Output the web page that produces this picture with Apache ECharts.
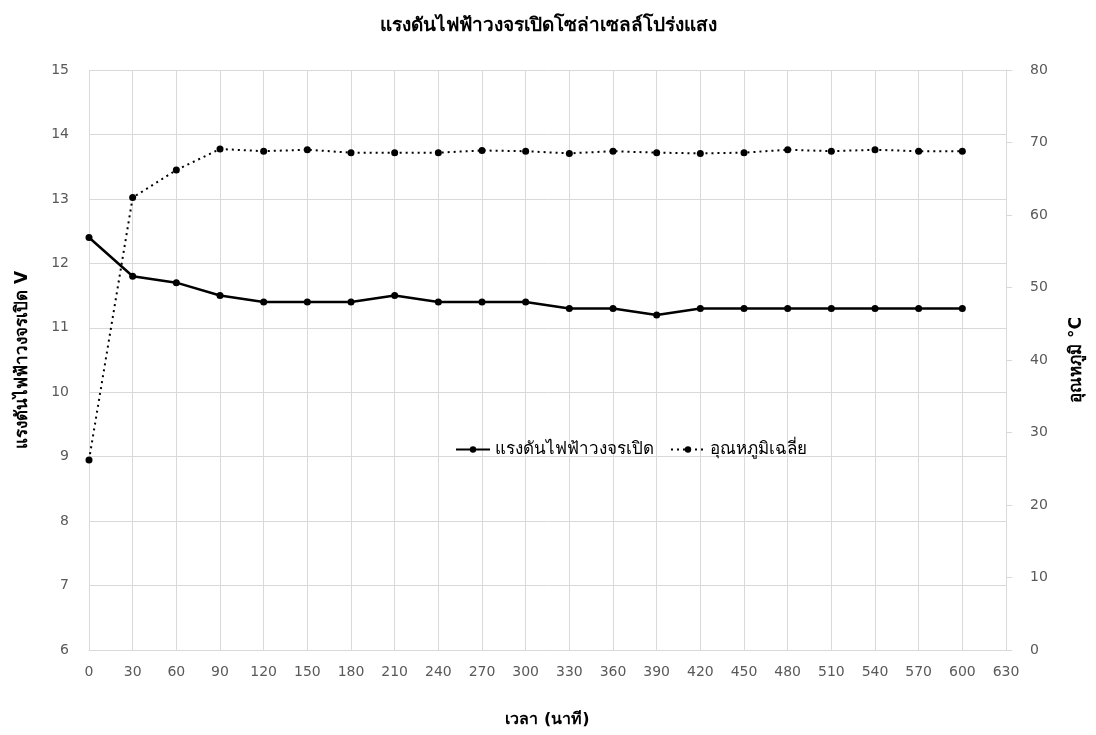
<!DOCTYPE html>
<html>
<head>
<meta charset="utf-8">
<script src="https://cdn.jsdelivr.net/npm/echarts@6/dist/echarts.min.js"></script>
<style>
  html, body { margin: 0; padding: 0; background: #fff; }
  #main { width: 1096px; height: 735px; }
</style>
</head>
<body>
<div id="main"></div>
<script>
// เวลา (นาที)
var minutes = [0, 30, 60, 90, 120, 150, 180, 210, 240, 270, 300, 330, 360, 390, 420, 450, 480, 510, 540, 570, 600];
// แรงดันไฟฟ้าวงจรเปิด (V)
var voltage = [12.4, 11.8, 11.7, 11.5, 11.4, 11.4, 11.4, 11.5, 11.4, 11.4, 11.4, 11.3, 11.3, 11.2, 11.3, 11.3, 11.3, 11.3, 11.3, 11.3, 11.3];
// อุณหภูมิเฉลี่ย (°C)
var temperature = [26.2, 62.4, 66.2, 69.1, 68.8, 69.0, 68.6, 68.6, 68.6, 68.9, 68.8, 68.5, 68.8, 68.6, 68.5, 68.6, 69.0, 68.8, 69.0, 68.8, 68.8];

var seriesNames = ['แรงดันไฟฟ้าวงจรเปิด', 'อุณหภูมิเฉลี่ย'];

var font = 'Tahoma, "DejaVu Sans", "Noto Sans", sans-serif';

function pairs(xs, ys) {
  var out = [];
  for (var i = 0; i < xs.length; i++) {
    out.push([xs[i], ys[i]]);
  }
  return out;
}

var chart = echarts.init(document.getElementById('main'));

var option = {
  backgroundColor: '#ffffff',
  animation: false,
  textStyle: { fontFamily: font },
  title: {
    text: 'แรงดันไฟฟ้าวงจรเปิดโซล่าเซลล์โปร่งแสง',
    left: 'center',
    top: 12,
    textStyle: { fontSize: 19, fontWeight: 'bold', color: '#000', fontFamily: font }
  },
  legend: {
    left: 450,
    top: 436,
    itemWidth: 34,
    itemHeight: 8,
    itemGap: 16,
    textStyle: { fontSize: 17, color: '#000', fontFamily: font },
    data: seriesNames
  },
  grid: { left: 89, right: 90, top: 70, bottom: 85 },
  xAxis: {
    type: 'value',
    min: 0,
    max: 630,
    interval: 30,
    name: 'เวลา (นาที)',
    nameLocation: 'middle',
    nameGap: 62,
    nameTextStyle: { fontSize: 16, fontWeight: 'bold', color: '#000' },
    axisLine: { show: true, lineStyle: { color: '#d9d9d9' } },
    axisTick: { show: false },
    axisLabel: { fontSize: 14, color: '#595959', margin: 15 },
    splitLine: { show: true, lineStyle: { color: '#d9d9d9', width: 1 } }
  },
  yAxis: [{
    type: 'value',
    min: 6,
    max: 15,
    interval: 1,
    name: 'แรงดันไฟฟ้าวงจรเปิด V',
    nameLocation: 'middle',
    nameGap: 58,
    nameTextStyle: { fontSize: 17, fontWeight: 'bold', color: '#000' },
    axisLine: { show: false },
    axisTick: { show: false },
    axisLabel: { fontSize: 14, color: '#595959', margin: 20 },
    splitLine: { show: true, lineStyle: { color: '#d9d9d9', width: 1 } }
  }, {
    type: 'value',
    min: 0,
    max: 80,
    interval: 10,
    position: 'right',
    name: 'อุณหภูมิ °C',
    nameLocation: 'middle',
    nameGap: 62,
    nameTextStyle: { fontSize: 17, fontWeight: 'bold', color: '#000' },
    axisLine: { show: true, lineStyle: { color: '#d9d9d9' } },
    axisTick: { show: true, length: 6, lineStyle: { color: '#d9d9d9' } },
    axisLabel: { fontSize: 14, color: '#595959', margin: 24 },
    splitLine: { show: false }
  }],
  series: [{
    name: seriesNames[0],
    type: 'line',
    yAxisIndex: 0,
    data: pairs(minutes, voltage),
    symbol: 'circle',
    symbolSize: 7,
    lineStyle: { color: '#000', width: 2.5 },
    itemStyle: { color: '#000' }
  }, {
    name: seriesNames[1],
    type: 'line',
    yAxisIndex: 1,
    data: pairs(minutes, temperature),
    symbol: 'circle',
    symbolSize: 7,
    lineStyle: { color: '#000', width: 2, type: [2, 4] },
    itemStyle: { color: '#000' }
  }]
};

chart.setOption(option);
</script>
</body>
</html>
